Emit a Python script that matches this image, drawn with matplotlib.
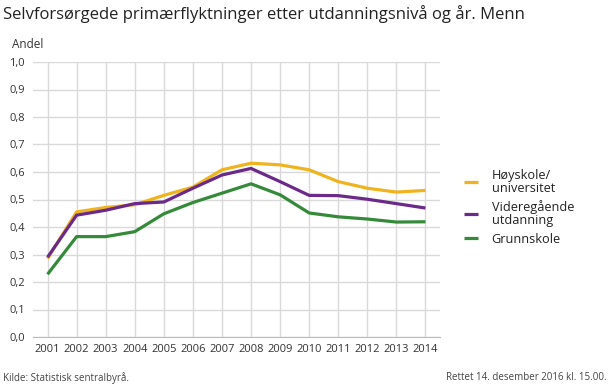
import numpy as np
import matplotlib.pyplot as plt

plt.rcParams['font.family'] = ['Open Sans', 'DejaVu Sans']

years = list(range(2001, 2015))
hoyskole = [0.285, 0.455, 0.471, 0.481, 0.515, 0.545, 0.608, 0.632, 0.626, 0.608, 0.565, 0.541, 0.527, 0.533]
videregaende = [0.290, 0.443, 0.461, 0.485, 0.491, 0.541, 0.589, 0.613, 0.565, 0.515, 0.514, 0.501, 0.485, 0.469]
grunnskole = [0.228, 0.365, 0.365, 0.383, 0.448, 0.489, 0.523, 0.557, 0.517, 0.451, 0.437, 0.429, 0.418, 0.419]
labels = ['Høyskole/\nuniversitet', 'Videregående\nutdanning', 'Grunnskole']
colors = ['#efb31d', '#6b2a8a', '#358a3a']
yticks = np.arange(0, 1.01, 0.1)

fig = plt.figure(figsize=(6.1, 3.85), dpi=100)
ax = fig.add_axes([33/610, 48/385, 407/610, 275/385])

for s, lab, c in zip([hoyskole, videregaende, grunnskole], labels, colors):
    ax.plot(years, s, color=c, lw=2.3, label=lab, solid_capstyle='butt')

ax.set_xlim(2000.5, 2014.5)
ax.set_ylim(0, 1.0)
ax.set_xticks(years)
ax.set_xticklabels([str(y) for y in years])
ax.set_yticks(yticks)
ax.set_yticklabels([('%.1f' % v).replace('.', ',') for v in yticks])
ax.grid(True, color='#d9d9d9', lw=1)
ax.set_axisbelow(True)
for sp in ['top', 'right', 'left']:
    ax.spines[sp].set_visible(False)
ax.spines['bottom'].set_color('#bbbbbb')
ax.tick_params(length=0, labelsize=8, colors='#333333', pad=5)
ax.tick_params(axis='y', pad=6)

fig.text(3/610, 1 - 14/385, 'Selvforsørgede primærflyktninger etter utdanningsnivå og år. Menn',
         fontsize=12, color='#222222', va='center')
fig.text(12/610, 1 - 45/385, 'Andel', fontsize=8.5, color='#333333', va='center')
fig.text(3/610, 1 - 378/385, 'Kilde: Statistisk sentralbyrå.', fontsize=7, color='#444444', va='center')
fig.text(607/610, 1 - 378/385, 'Rettet 14. desember 2016 kl. 15.00.', fontsize=7, color='#444444',
         va='center', ha='right')

leg = fig.legend(loc='upper left', bbox_to_anchor=(452/610, 1 - 157/385), frameon=False,
                 fontsize=9.2, handlelength=1.1, handletextpad=1.1, labelspacing=0.45,
                 labelcolor='#222222')
for t in leg.get_texts():
    t.set_linespacing(1.0)

fig.savefig('out.png', dpi=100)
